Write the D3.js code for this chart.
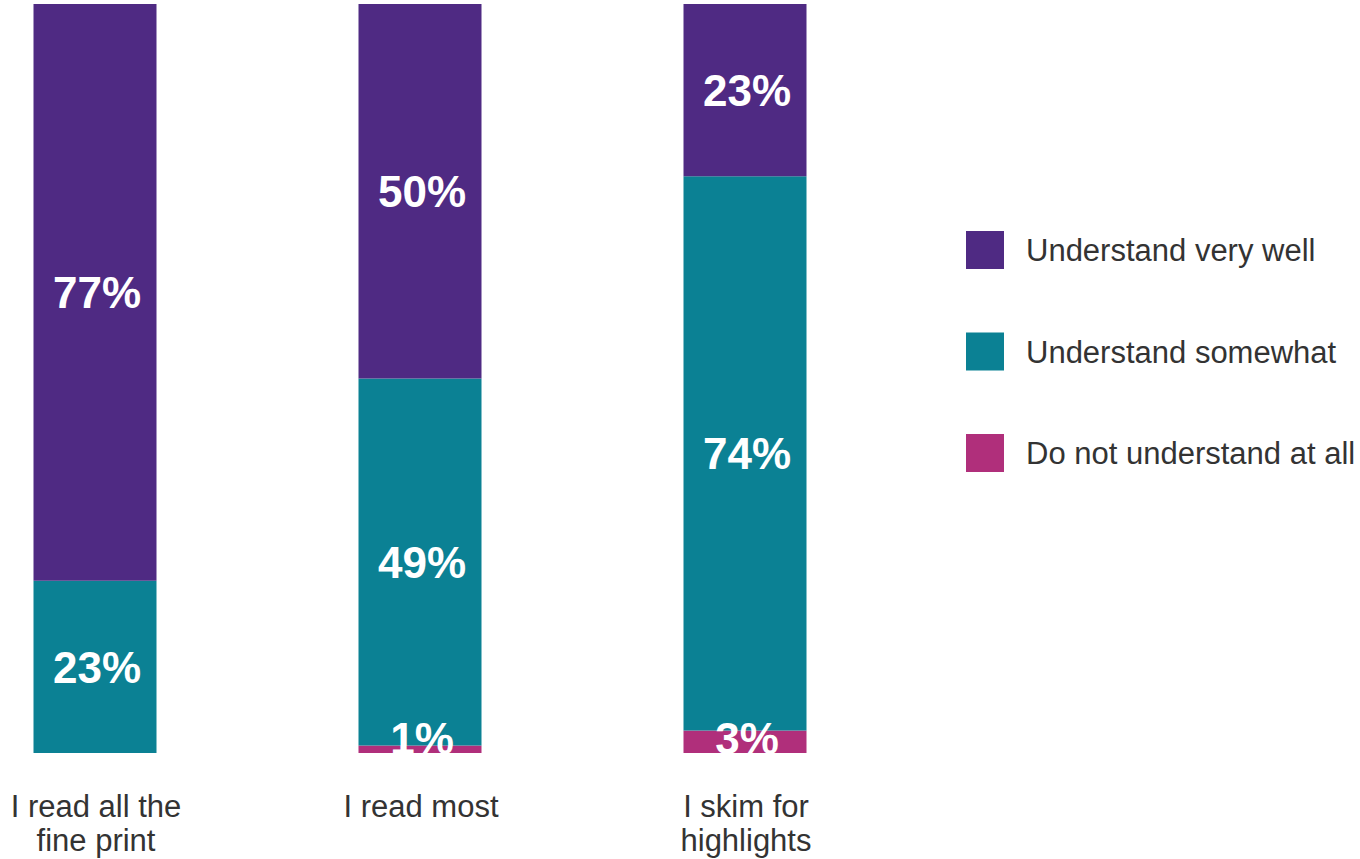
<!DOCTYPE html>
<html>
<head>
<meta charset="utf-8">
<script src="https://cdn.jsdelivr.net/npm/d3@7"></script>
<style>
  html, body { margin: 0; padding: 0; background: #fff; }
  svg { display: block; }
</style>
</head>
<body>
<svg id="chart" width="1360" height="859"></svg>
<script>
// Reading habits vs. understanding, stacked to 100%
const categories = ["I read all the|fine print", "I read most", "I skim for|highlights"];
const seriesNames = ["Do not understand at all", "Understand somewhat", "Understand very well"];
const doNotUnderstand = [0, 1, 3];
const understandSomewhat = [23, 49, 74];
const understandVeryWell = [77, 50, 23];
const legendOrder = ["Understand very well", "Understand somewhat", "Do not understand at all"];

const colors = {
  "Understand very well": "#4f2a83",
  "Understand somewhat": "#0b8194",
  "Do not understand at all": "#b02f7b"
};

const rows = categories.map((c, i) => ({
  category: c,
  "Do not understand at all": doNotUnderstand[i],
  "Understand somewhat": understandSomewhat[i],
  "Understand very well": understandVeryWell[i]
}));

const svg = d3.select("#chart");
const FONT = "'Liberation Sans', Arial, sans-serif";

const x = d3.scalePoint()
  .domain(categories)
  .range([95, 745]);
const barWidth = 123;

const y = d3.scaleLinear()
  .domain([0, 100])
  .range([753, 4]);

const stack = d3.stack().keys(seriesNames);
const layers = stack(rows);

const g = svg.append("g");

const layer = g.selectAll("g.layer")
  .data(layers)
  .join("g")
  .attr("class", "layer")
  .attr("fill", d => colors[d.key]);

layer.selectAll("rect")
  .data(d => d.map(p => ({ p, key: d.key })))
  .join("rect")
  .attr("x", d => x(d.p.data.category) - barWidth / 2)
  .attr("width", barWidth)
  .attr("y", d => y(d.p[1]))
  .attr("height", d => y(d.p[0]) - y(d.p[1]));

// Value labels centred in each segment; thin bottom segments keep their label near the base
const labels = [];
layers.forEach(l => l.forEach(p => {
  const v = p[1] - p[0];
  if (v > 0) labels.push({ cat: p.data.category, v, mid: (p[0] + p[1]) / 2 });
}));

const clipId = "bars-clip";
svg.append("defs").append("clipPath").attr("id", clipId)
  .append("rect").attr("x", 0).attr("y", 0).attr("width", 900).attr("height", y(0));

g.append("g").attr("clip-path", `url(#${clipId})`)
  .selectAll("text.value")
  .data(labels)
  .join("text")
  .attr("class", "value")
  .attr("x", d => x(d.cat) + 2)
  .attr("y", d => Math.min(y(d.mid), y(0) - 15))
  .attr("dy", "0.36em")
  .attr("text-anchor", "middle")
  .attr("fill", "#fff")
  .attr("font-family", FONT)
  .attr("font-weight", "bold")
  .attr("font-size", 44)
  .text(d => d.v + "%");

// Category labels under the bars
const catG = g.selectAll("text.cat")
  .data(categories)
  .join("text")
  .attr("class", "cat")
  .attr("text-anchor", "middle")
  .attr("fill", "#333")
  .attr("font-family", FONT)
  .attr("font-size", 31);

catG.each(function (c) {
  const t = d3.select(this);
  c.split("|").forEach((line, i) => {
    t.append("tspan")
      .attr("x", x(c) + 1)
      .attr("y", 817 + i * 34)
      .text(line);
  });
});

// Legend
const legend = svg.append("g").attr("transform", "translate(966,231)");
const item = legend.selectAll("g")
  .data(legendOrder)
  .join("g")
  .attr("transform", (d, i) => `translate(0,${i * 101.5})`);

item.append("rect")
  .attr("width", 38)
  .attr("height", 38)
  .attr("fill", d => colors[d]);

item.append("text")
  .attr("x", 60)
  .attr("y", 19)
  .attr("dy", "0.36em")
  .attr("fill", "#333")
  .attr("font-family", FONT)
  .attr("font-size", 31)
  .text(d => d);
</script>
</body>
</html>
